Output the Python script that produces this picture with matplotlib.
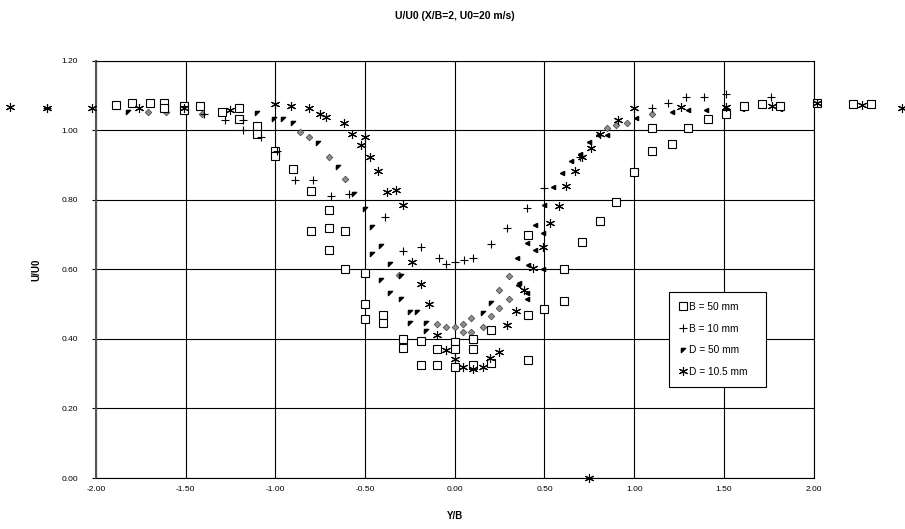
import matplotlib.pyplot as plt
from matplotlib.ticker import MultipleLocator, FormatStrFormatter

plt.rcParams['font.family'] = ['Liberation Sans', 'DejaVu Sans']

# B = 50 mm (open squares)
b50_x = [-1.89, -1.80, -1.70, -1.62, -1.62, -1.51, -1.51, -1.42, -1.30, -1.20,
         -1.20, -1.10, -1.10, -1.00, -1.00, -0.90, -0.80, -0.80, -0.70, -0.70,
         -0.70, -0.61, -0.61, -0.50, -0.50, -0.50, -0.40, -0.40, -0.29, -0.29,
         -0.19, -0.19, -0.10, -0.10, 0.00, 0.00, 0.00, 0.10, 0.10, 0.10,
         0.20, 0.20, 0.41, 0.41, 0.41, 0.50, 0.61, 0.61, 0.71, 0.81,
         0.90, 1.00, 1.10, 1.10, 1.21, 1.30, 1.41, 1.51, 1.61, 1.71,
         1.81, 2.02, 2.22, 2.32]
b50_y = [1.073, 1.08, 1.08, 1.08, 1.065, 1.07, 1.06, 1.07, 1.053, 1.065,
         1.033, 1.013, 0.99, 0.94, 0.925, 0.89, 0.826, 0.71, 0.77, 0.72,
         0.655, 0.71, 0.60, 0.59, 0.50, 0.457, 0.47, 0.445, 0.40, 0.375,
         0.395, 0.325, 0.37, 0.325, 0.39, 0.37, 0.32, 0.40, 0.37, 0.325,
         0.425, 0.33, 0.70, 0.47, 0.34, 0.485, 0.60, 0.51, 0.68, 0.74,
         0.795, 0.88, 1.007, 0.94, 0.96, 1.007, 1.033, 1.047, 1.07, 1.076,
         1.07, 1.08, 1.076, 1.076]

# B = 10 mm (plus)
b10_x = [-2.27, -1.40, -1.28, -1.18, -1.18, -1.08, -0.99, -0.89, -0.79, -0.69,
         -0.59, -0.39, -0.29, -0.19, -0.09, -0.05, 0.00, 0.05, 0.10, 0.20,
         0.29, 0.40, 0.50, 0.70, 1.10, 1.19, 1.29, 1.39, 1.51, 1.76]
b10_y = [1.065, 1.047, 1.03, 1.03, 1.00, 0.98, 0.94, 0.858, 0.858, 0.81,
         0.817, 0.75, 0.653, 0.665, 0.633, 0.616, 0.622, 0.627, 0.633, 0.673,
         0.72, 0.777, 0.835, 0.924, 1.065, 1.08, 1.097, 1.097, 1.105, 1.097]

# D = 50 mm (small triangles), left branch and right branch
d50_x = [-1.82, -1.10, -1.01, -0.96, -0.90, -0.76, -0.65, -0.56, -0.50, -0.46,
         -0.41, -0.46, -0.36, -0.30, -0.41, -0.36, -0.30, -0.25, -0.21, -0.25,
         -0.16, -0.16, 0.155, 0.20]
d50_y = [1.053, 1.05, 1.033, 1.033, 1.02, 0.964, 0.895, 0.817, 0.774, 0.722,
         0.668, 0.645, 0.616, 0.58, 0.57, 0.532, 0.515, 0.478, 0.478, 0.446,
         0.446, 0.423, 0.475, 0.503]
d50r_x = [0.345, 0.36, 0.40, 0.49, 0.50, 0.45, 0.49, 0.40, 0.45, 0.41,
          0.35, 0.40, 0.55, 0.60, 0.65, 0.70, 0.75, 0.80, 0.85, 1.01,
          1.21, 1.30, 1.40, 1.51, 1.60, 1.81, 2.01]
d50r_y = [0.633, 0.56, 0.515, 0.60, 0.786, 0.728, 0.705, 0.676, 0.655, 0.613,
          0.555, 0.532, 0.837, 0.878, 0.912, 0.932, 0.967, 0.987, 0.987, 1.036,
          1.053, 1.059, 1.059, 1.059, 1.062, 1.062, 1.08]

# D = 10.5 mm (asterisks)
d105_x = [-2.48, -2.27, -2.02, -1.76, -1.51, -1.25, -1.00, -0.91, -0.81, -0.75,
          -0.72, -0.62, -0.57, -0.52, -0.50, -0.47, -0.43, -0.38, -0.33, -0.29,
          -0.24, -0.19, -0.145, -0.10, -0.05, 0.00, 0.045, 0.10, 0.155, 0.195,
          0.245, 0.29, 0.34, 0.385, 0.435, 0.49, 0.53, 0.58, 0.62, 0.67,
          0.71, 0.76, 0.81, 0.91, 1.00, 1.26, 1.51, 1.77, 2.02, 2.27,
          2.49, 0.75]
d105_y = [1.067, 1.065, 1.065, 1.065, 1.065, 1.059, 1.075, 1.07, 1.065, 1.047,
          1.04, 1.02, 0.99, 0.958, 0.98, 0.924, 0.884, 0.823, 0.829, 0.786,
          0.62, 0.558, 0.50, 0.41, 0.368, 0.343, 0.32, 0.314, 0.32, 0.345,
          0.363, 0.44, 0.48, 0.541, 0.604, 0.665, 0.734, 0.783, 0.84, 0.883,
          0.924, 0.95, 0.99, 1.03, 1.065, 1.067, 1.067, 1.07, 1.08, 1.073,
          1.065, 0.0]

# grey diamonds (not in legend)
dm_x = [-1.71, -1.61, -1.51, -1.41, -0.86, -0.81, -0.70, -0.61, -0.31, -0.10,
        -0.05, 0.00, 0.045, 0.045, 0.09, 0.09, 0.155, 0.20, 0.245, 0.245,
        0.30, 0.30, 0.85, 0.90, 0.96, 1.10]
dm_y = [1.053, 1.053, 1.058, 1.047, 0.996, 0.98, 0.924, 0.86, 0.584, 0.443,
        0.435, 0.435, 0.443, 0.42, 0.46, 0.42, 0.435, 0.466, 0.49, 0.54,
        0.515, 0.58, 1.007, 1.016, 1.02, 1.047]

fig = plt.figure(figsize=(9.05, 5.29), dpi=100)
ax = fig.add_axes([0.106, 0.0964, 0.793, 0.7885])

corner = [(-1, 1), (1, 1), (-1, -1), (-1, 1)]

ax.plot(dm_x, dm_y, ls='none', marker='D', ms=3.4, mfc='#8c8c8c', mec='#404040',
        mew=0.5, clip_on=False, zorder=3)
ax.plot(d50r_x, d50r_y, ls='none', marker='<', ms=3.0, mfc='black', mec='black',
        clip_on=False, zorder=3)
ax.plot(b50_x, b50_y, ls='none', marker='s', ms=5.8, mfc='white', mec='black',
        mew=0.8, clip_on=False, zorder=3, label='B = 50 mm')
ax.plot(b10_x, b10_y, ls='none', marker='+', ms=6, mec='black', mew=0.8,
        clip_on=False, zorder=4, label='B = 10 mm')
ax.plot(d50_x, d50_y, ls='none', marker=corner, ms=3.0, mfc='black', mec='black',
        clip_on=False, zorder=4, label='D = 50 mm')
ax.plot(d105_x, d105_y, ls='none', marker=(6, 2, 0), ms=6.5, mec='black', mew=0.8,
        clip_on=False, zorder=4, label='D = 10.5 mm')

ax.set_xlim(-2, 2)
ax.set_ylim(0, 1.2)
ax.xaxis.set_major_locator(MultipleLocator(0.5))
ax.yaxis.set_major_locator(MultipleLocator(0.2))
ax.xaxis.set_major_formatter(FormatStrFormatter('%.2f'))
ax.yaxis.set_major_formatter(FormatStrFormatter('%.2f'))
ax.grid(True, color='black', lw=0.8)
ax.set_axisbelow(True)
for s in ax.spines.values():
    s.set_color('black')
    s.set_linewidth(0.8)
ax.spines['left'].set_color('#555555')
ax.spines['left'].set_linewidth(1.5)
ax.tick_params(axis='y', labelsize=6, length=3, width=0.8, pad=10)
ax.tick_params(axis='x', labelsize=6, length=0, pad=6)

ax.set_title('U/U0 (X/B=2, U0=20 m/s)', fontsize=7.5, fontweight='bold', pad=30)
ax.set_xlabel('Y/B', fontsize=7, fontweight='bold', labelpad=13)
ax.set_ylabel('U/U0', fontsize=7, fontweight='bold', labelpad=14)

leg = ax.legend(loc='lower left', bbox_to_anchor=(0.798, 0.218, 0.135, 0.233),
                mode='expand', fontsize=7.3,
                frameon=True, fancybox=False, edgecolor='black', framealpha=1,
                labelspacing=1.15, handlelength=0.8, handletextpad=0.2,
                borderpad=1.0, borderaxespad=0)
leg.get_frame().set_linewidth(0.8)

fig.savefig('out.png', dpi=100)
